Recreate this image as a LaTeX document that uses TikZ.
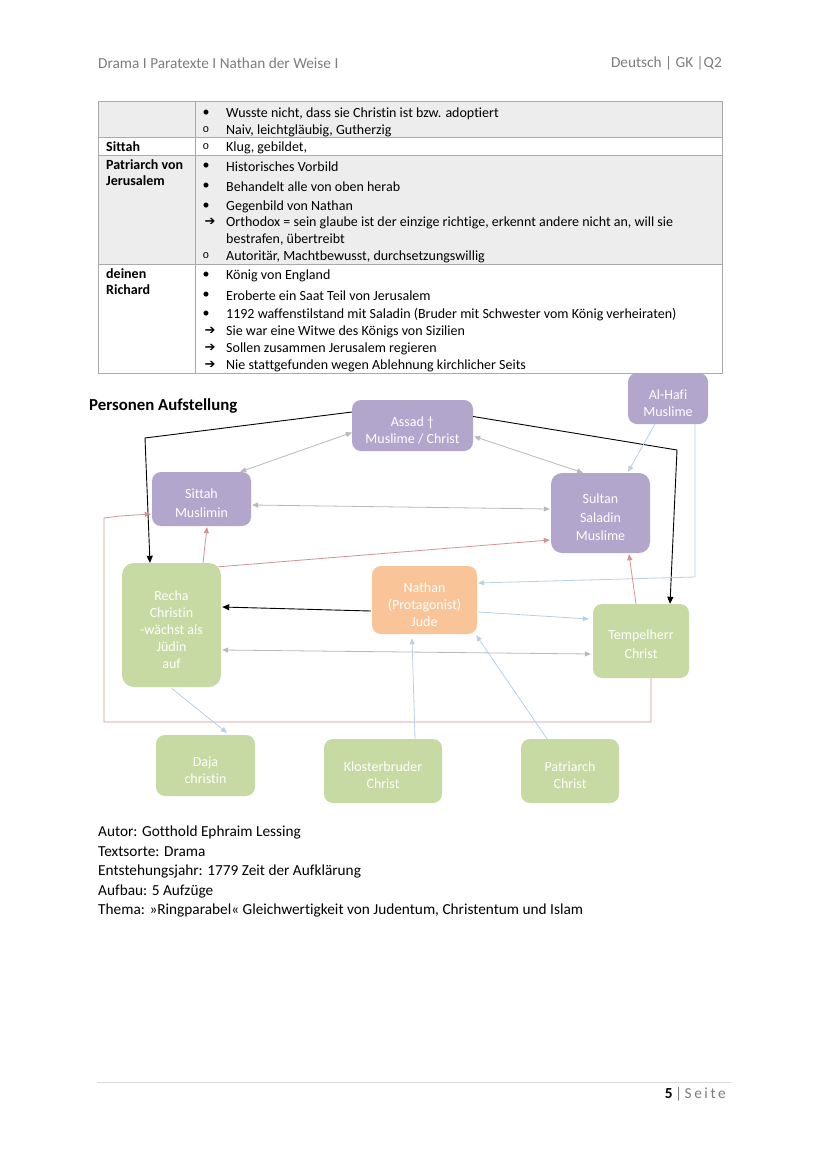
\documentclass[tikz,border=0pt]{standalone}
\usepackage{fontspec}
\setmainfont{Carlito}[Ligatures=NoCommon]
\newfontfamily\symfont{DejaVu Sans}
\newfontfamily\monofont{Liberation Mono}
\usetikzlibrary{arrows.meta,calc}
\definecolor{purp}{RGB}{179,166,204}
\definecolor{grn}{RGB}{199,218,163}
\definecolor{orng}{RGB}{249,197,152}
\definecolor{redl}{RGB}{212,146,146}
\definecolor{grayl}{RGB}{185,185,185}
\definecolor{bluel}{RGB}{184,208,228}
\definecolor{tabfill}{RGB}{237,237,237}
\definecolor{tabline}{RGB}{170,170,170}
\definecolor{hdr}{RGB}{125,125,125}
\newcommand{\bul}{\textbullet}
\newcommand{\hol}{{\monofont\fontsize{11}{11}\selectfont o}}
\newcommand{\arr}{{\symfont\fontsize{13}{13}\selectfont ➔}}
\begin{document}
\begin{tikzpicture}[x=1pt,y=-1pt,
  tt/.style={anchor=west,inner sep=0pt,font=\fontsize{14}{16}\selectfont},
  bt/.style={anchor=center,inner sep=0pt,font=\fontsize{14}{16}\selectfont},
  lbl/.style={anchor=west,inner sep=0pt,font=\fontsize{14}{16}\selectfont\bfseries,align=left},
  body/.style={anchor=west,inner sep=0pt,font=\fontsize{15.3}{18}\selectfont},
  hd/.style={inner sep=0pt,font=\fontsize{15.3}{18}\selectfont,text=hdr},
  box/.style={rounded corners=9pt,draw=none,inner sep=0pt},
  lab/.style={text=white,align=center,inner sep=0pt,yshift=-4.5pt,font=\fontsize{14}{17}\selectfont},
  labw/.style={lab,font=\fontsize{14}{19}\selectfont},
  labm/.style={lab,font=\fontsize{14}{18.5}\selectfont},
  pbox/.style={box,fill=purp},
  gbox/.style={box,fill=grn},
  obox/.style={box,fill=orng},
  blk/.style={draw=black,line width=0.9pt,-{Triangle[length=7pt,width=6pt]}},
  rd/.style={draw=redl,line width=0.8pt,-{Triangle[length=6pt,width=5pt]}},
  gr/.style={draw=grayl,line width=0.8pt,{Triangle[length=6pt,width=5pt]}-{Triangle[length=6pt,width=5pt]}},
  bl/.style={draw=bluel,line width=0.8pt,-{Triangle[length=6pt,width=5pt]}}
]
\useasboundingbox (0,0) rectangle (828,1171);
\fill[white] (0,0) rectangle (828,1171);

% header
\node[hd,anchor=west] (h1) at (98,63) {Drama I Paratexte I Nathan der Weise I};
\node[hd,anchor=east] (h2) at (722,63) {Deutsch | GK |Q2};

% table
\fill[tabfill] (98,101) rectangle (722,137);
\fill[tabfill] (98,155) rectangle (722,264);
\draw[tabline,line width=0.6pt] (98,101) rectangle (722,373);
\draw[tabline,line width=0.6pt] (195,101) -- (195,373);
\draw[tabline,line width=0.6pt] (98,137) -- (722,137);
\draw[tabline,line width=0.6pt] (98,155) -- (722,155);
\draw[tabline,line width=0.6pt] (98,264) -- (722,264);

\node[lbl] (l1) at (106,147) {Sittah};
\node[lbl,anchor=north west] (l2) at (106,159) {Patriarch von\\Jerusalem};
\node[lbl,anchor=north west] (l3) at (106,268) {deinen\\Richard};

% row 1
\node[bt] at (206,113) {\bul}; \node[tt] at (226,114) {Wusste nicht, dass sie Christin ist bzw. adoptiert};
\node[bt] at (206,130) {\hol}; \node[tt] at (226,131) {Naiv, leichtgläubig, Gutherzig};
% row 2
\node[bt] at (206,147) {\hol}; \node[tt] at (226,148) {Klug, gebildet,};
% row 3
\node[bt] at (206,166) {\bul}; \node[tt] at (226,167) {Historisches Vorbild};
\node[bt] at (206,186) {\bul}; \node[tt] at (226,187) {Behandelt alle von oben herab};
\node[bt] at (206,206) {\bul}; \node[tt] at (226,207) {Gegenbild von Nathan};
\node[bt] at (210,222) {\arr}; \node[tt] at (226,223) {Orthodox = sein glaube ist der einzige richtige, erkennt andere nicht an, will sie};
\node[tt] at (226,240) {bestrafen, übertreibt};
\node[bt] at (206,256) {\hol}; \node[tt] at (226,257) {Autoritär, Machtbewusst, durchsetzungswillig};
% row 4
\node[bt] at (206,275) {\bul}; \node[tt] at (226,276) {König von England};
\node[bt] at (206,295) {\bul}; \node[tt] at (226,296) {Eroberte ein Saat Teil von Jerusalem};
\node[bt] at (206,314) {\bul}; \node[tt] at (226,315) {1192 waffenstilstand mit Saladin (Bruder mit Schwester vom König verheiraten)};
\node[bt] at (210,331) {\arr}; \node[tt] at (226,332) {Sie war eine Witwe des Königs von Sizilien};
\node[bt] at (210,348) {\arr}; \node[tt] at (226,349) {Sollen zusammen Jerusalem regieren};
\node[bt] at (210,365) {\arr}; \node[tt] at (226,366) {Nie stattgefunden wegen Ablehnung kirchlicher Seits};

% diagram title
\node[anchor=west,inner sep=0pt,font=\fontsize{16.8}{19}\selectfont\bfseries] (title) at (89,406) {Personen Aufstellung};

% nodes
\node[pbox,minimum width=121pt,minimum height=51pt,label={[lab]center:{Assad †\\Muslime / Christ}}] (assad) at (412.5,425.5) {};
\node[pbox,minimum width=80pt,minimum height=51pt,label={[lab]center:{Al-Hafi\\Muslime}}] (alhafi) at (668,398.5) {};
\node[pbox,minimum width=99pt,minimum height=54pt,label={[labw]center:{Sittah\\Muslimin}}] (sittah) at (201.5,499) {};
\node[pbox,minimum width=99pt,minimum height=80pt,rounded corners=11pt,label={[labm]center:{Sultan\\Saladin\\Muslime}}] (saladin) at (600.5,513) {};
\node[gbox,minimum width=99pt,minimum height=124pt,rounded corners=12pt,label={[lab]center:{Recha\\Christin\\-wächst als\\Jüdin\\auf}}] (recha) at (171.5,625) {};
\node[obox,minimum width=105pt,minimum height=68pt,label={[lab]center:{Nathan\\(Protagonist)\\Jude}}] (nathan) at (424.5,600) {};
\node[gbox,minimum width=96pt,minimum height=74pt,label={[labw,yshift=1.5pt]center:{Tempelherr\\Christ}}] (tempel) at (641,641) {};
\node[gbox,minimum width=99pt,minimum height=61pt,label={[lab]center:{Daja\\christin}}] (daja) at (205.5,765.5) {};
\node[gbox,minimum width=118pt,minimum height=64pt,label={[lab]center:{Klosterbruder\\Christ}}] (kloster) at (383,771) {};
\node[gbox,minimum width=98pt,minimum height=64pt,label={[lab]center:{Patriarch\\Christ}}] (patriarch) at (570,771) {};

% connectors
\draw[blk] ($(assad.west)+(0,-13.5)$) -- (145,438) -- ($(recha.north)+(-21.5,0)$);
\draw[blk] ($(assad.east)+(0,-9)$) -- (677,450) -- ($(tempel.north)+(29,0)$);
\draw[gr] ($(sittah.north east)+(-11,0)$) -- ($(assad.west)+(0,7)$);
\draw[gr] ($(assad.east)+(1,11)$) -- ($(saladin.north)+(-17.5,0)$);
\draw[gr] ($(sittah.east)+(1,6)$) -- ($(saladin.west)+(-1,-4)$);
\draw[bl] ($(alhafi.south)+(-13,0)$) -- ($(saladin.north)+(27.5,-1)$);
\draw[bl] ($(alhafi.south)+(27,0)$) -- (695,577) -- ($(nathan.east)+(1,-17)$);
\draw[rd] ($(recha.north)+(31.5,0)$) -- ($(sittah.south)+(5.5,1)$);
\draw[rd] ($(recha.north east)+(-3,4)$) -- ($(saladin.west)+(-1,27)$);
\draw[rd] ($(tempel.north)+(-5,0)$) -- ($(saladin.south)+(28.5,1)$);
\draw[rd] ($(tempel.south)+(10,0)$) -- (651,722) -- (104,722) -- (104,518) -- (120,516) -- ($(sittah.west)+(-1,15)$);
\draw[blk] ($(nathan.west)+(-1,11)$) -- ($(recha.east)+(1,-18)$);
\draw[gr] ($(recha.east)+(1,25)$) -- ($(tempel.west)+(-2,13)$);
\draw[bl] ($(nathan.east)+(1,12)$) -- ($(tempel.west)+(-4,-22)$);
\draw[bl] ($(kloster.north)+(32,0)$) -- ($(nathan.south)+(-12.5,4)$);
\draw[bl] ($(patriarch.north)+(-23,0)$) -- ($(nathan.south east)+(-1,1)$);
\draw[bl] ($(recha.south)+(0,1)$) -- ($(daja.north)+(21.5,-2)$);

% body text
\node[body] (t1) at (98,832.5) {Autor: Gotthold Ephraim Lessing};
\node[body] (t2) at (98,851.5) {Textsorte: Drama};
\node[body] (t3) at (98,871.5) {Entstehungsjahr: 1779 Zeit der Aufklärung};
\node[body] (t4) at (98,891.5) {Aufbau: 5 Aufzüge};
\node[body] (t5) at (98,910.5) {Thema: »Ringparabel« Gleichwertigkeit von Judentum, Christentum und Islam};

% footer
\draw[draw=black!15,line width=0.8pt] (97,1082) -- (731,1082);
\node[anchor=east,inner sep=0pt,font=\fontsize{15.3}{18}\selectfont] (pg) at (726,1094) {\textbf{5}\,\textcolor{hdr}{|}\,\textcolor{hdr}{S\,e\,i\,t\,e}};
\end{tikzpicture}
\end{document}
